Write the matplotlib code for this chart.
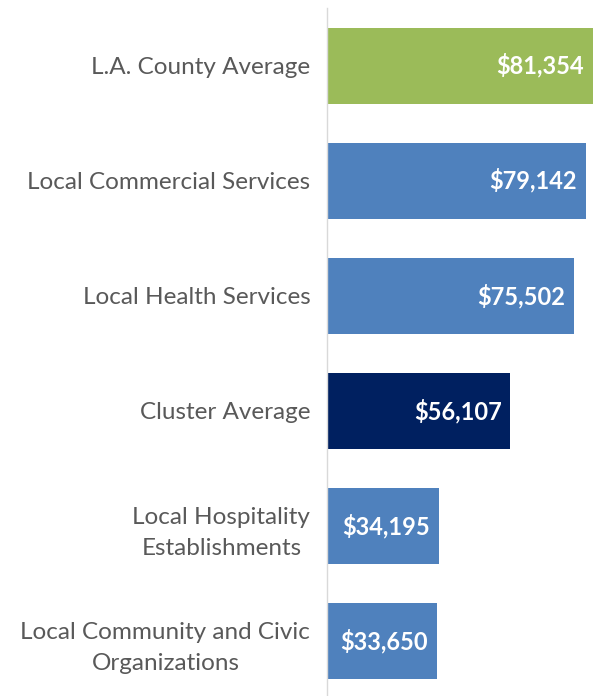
import matplotlib
matplotlib.use("Agg")
import matplotlib.pyplot as plt

# chart data, top to bottom
categories = ["L.A. County Average", "Local Commercial Services", "Local Health Services",
              "Cluster Average", "Local Hospitality\nEstablishments",
              "Local Community and Civic\nOrganizations"]
wages = [81354, 79142, 75502, 56107, 34195, 33650]
bar_colors = ["#9BBB59", "#4F81BD", "#4F81BD", "#002060", "#4F81BD", "#4F81BD"]

plt.rcParams["font.family"] = ["Lato", "DejaVu Sans"]

fig = plt.figure(figsize=(5.93, 6.96), dpi=100)
ax = fig.add_axes([327 / 593, -2.5 / 696, 266 / 593, 690.5 / 696])

ypos = list(range(len(categories)))
ax.barh(ypos, wages, height=0.66, color=bar_colors)
ax.set_xlim(0, max(wages))
ax.set_ylim(len(categories) - 0.5, -0.5)

for y, v in zip(ypos, wages):
    ax.text(v - max(wages) * 0.033, y, f"${v:,}", ha="right", va="center",
            color="white", fontsize=17, fontweight="bold")

ax.set_yticks(ypos)
ax.set_yticklabels(categories, fontsize=17.5, color="#595959", ha="right",
                   multialignment="center", linespacing=1.6)
ax.tick_params(axis="y", length=0, pad=12)
ax.set_xticks([])
for s in ["top", "right", "bottom"]:
    ax.spines[s].set_visible(False)
ax.spines["left"].set_color("#D9D9D9")
ax.spines["left"].set_linewidth(1)

fig.savefig("out.png", dpi=100)
